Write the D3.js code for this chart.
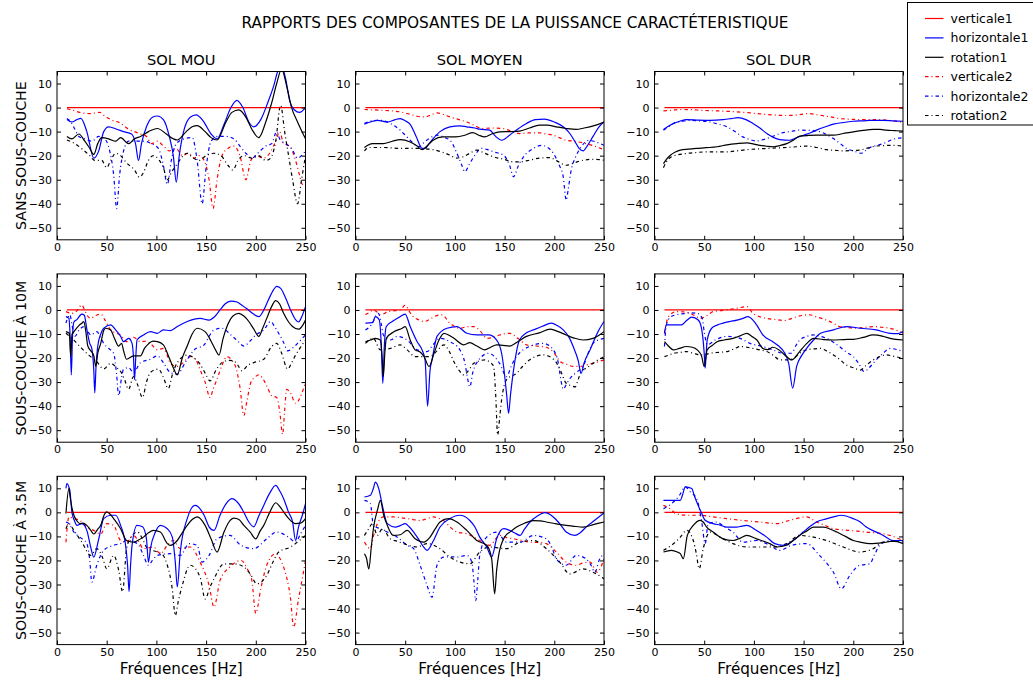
<!DOCTYPE html>
<html><head><meta charset="utf-8">
<script src="https://cdn.jsdelivr.net/npm/d3@7"></script>
<style>
body{margin:0;background:#fff}
svg{display:block}
text{font-family:"DejaVu Sans",sans-serif;fill:#000}
</style>
</head><body>
<svg id="chart" width="1033" height="680"></svg>
<script>
// ---------------- DATA ----------------
const figureTitle = "RAPPORTS DES COMPOSANTES DE LA PUISSANCE CARACTÉTERISTIQUE";
const columnTitles = ["SOL MOU", "SOL MOYEN", "SOL DUR"];
const rowTitles = ["SANS SOUS-COUCHE", "SOUS-COUCHE À 10M", "SOUS-COUCHE À 3.5M"];
const xLabel = "Fréquences [Hz]";
const seriesNames = ["verticale1", "horizontale1", "rotation1", "verticale2", "horizontale2", "rotation2"];
const xTicks = [0, 50, 100, 150, 200, 250];
const yTicks = [-50, -40, -30, -20, -10, 0, 10];

// verticale1 is the reference (0 dB) in every panel
const verticale1 = [[10,0],[250,0]];

// Row A : sans sous-couche
const mouA_h1 = [[10,-5],[15,-6],[20,-5],[24,-4.5],[30,-10],[37,-21],[42,-18],[47,-10],[52,-8],[60,-9],[67,-10],[75,-11],[79,-15],[82,-22],[85,-15],[90,-8],[96,-4],[101,-3.5],[107,-5],[113,-12],[117,-20],[120,-31],[123,-20],[128,-9],[134,-4],[140,-3],[147,-5.5],[155,-11],[161,-13],[168,-7],[175,0],[181,3],[187,0],[193,-6],[198,-8],[205,-5],[212,2],[218,9],[222,15],[226,17],[230,12],[234,3],[239,-1],[244,-2],[250,0]];
const mouA_r1 = [[10,-12],[15,-13],[22,-11],[28,-14],[33,-17],[37,-19.5],[41,-15],[45,-12.5],[52,-13],[59,-14],[64,-12.5],[72,-15],[78,-13],[84,-12],[92,-10],[101,-8.7],[110,-11],[117,-13],[121,-13.5],[130,-10],[136,-8],[141,-7.5],[149,-10],[155,-12.5],[161,-13.5],[170,-6],[176,-2],[183,-1],[190,-4],[196,-9],[203,-12.5],[210,-6],[216,2],[221,10],[226,16],[231,9],[236,0],[242,-6],[250,-13]];
const mouA_v2 = [[10,-0.5],[15,-1],[23,-2],[33,-2.5],[43,-2],[48,-3.5],[54,-5],[64,-6.5],[72,-9],[78,-10],[84,-11],[90,-12],[95,-15],[101,-14],[107,-16],[113,-18],[120,-17],[126,-20],[132,-19],[138,-21],[143,-20],[148,-22],[153,-30],[157,-42],[161,-30],[166,-20],[172,-17],[178,-16],[184,-20],[190,-30],[195,-22],[200,-20],[208,-21],[214,-19],[220,-14],[224,-10],[228,-15],[234,-16],[240,-22],[244,-28],[247,-32],[250,-31]];
const mouA_h2 = [[10,-4.5],[14,-6],[18,-9],[22,-12],[28,-13],[35,-14],[42,-12],[48,-13],[53,-18],[57,-28],[60,-42],[63,-28],[67,-18],[72,-14],[80,-14],[88,-14],[95,-15],[102,-17],[107,-24],[111,-32],[115,-22],[120,-15],[128,-13],[136,-12.5],[141,-22],[146,-40],[150,-25],[155,-14],[162,-12],[170,-12],[178,-13],[184,-16],[190,-19],[196,-21],[202,-19],[210,-16],[216,-15],[221,-10],[224,-13],[230,-15],[236,-17],[242,-21],[246,-20],[250,-18]];
const mouA_r2 = [[10,-13.5],[18,-15],[26,-17.5],[33,-20],[38,-22],[45,-22],[50,-25],[54,-22],[59,-19],[64,-20],[70,-23],[78,-26],[83,-29],[87,-27],[92,-22],[97,-20],[103,-22],[107,-25],[111,-30],[115,-27],[120,-24],[125,-21],[131,-19],[137,-21],[143,-22],[150,-20],[158,-19],[165,-20],[172,-24],[177,-26],[182,-22],[188,-20],[196,-21],[203,-20],[210,-22],[215,-21],[220,-14],[225,1],[229,-10],[233,-20],[237,-30],[242,-40],[246,-30],[250,-20]];

const moyA_h1 = [[9,-6.9],[15,-6],[22,-5.3],[32,-6],[40,-5],[45,-4.6],[50,-5.5],[55,-7],[61,-12],[67,-17],[70,-17],[74,-15],[78,-13],[85,-10],[95,-8],[105,-7.6],[112,-8],[120,-8.5],[125,-9],[135,-9.4],[141,-12],[147,-13.6],[155,-11.5],[163,-9],[172,-6.6],[181,-5],[190,-4.8],[200,-6],[209,-8],[216,-11],[221,-14.3],[225,-17],[229,-18],[233,-16],[239,-12],[245,-8],[250,-6]];
const moyA_r1 = [[9,-16.6],[17,-15],[28,-15],[37,-14],[45,-13.3],[55,-14.3],[62,-16],[67,-17.5],[72,-16],[78,-13.6],[88,-12.2],[101,-12.2],[110,-11.5],[118,-10.4],[124,-11.5],[130,-12.2],[137,-11],[145,-10.1],[155,-10],[165,-9.8],[175,-8.5],[185,-7.3],[193,-7.3],[202,-8],[212,-8.7],[222,-9.1],[230,-8.5],[240,-7.5],[250,-6]];
const moyA_v2 = [[9,-0.8],[25,-1.1],[45,-1.8],[55,-2.8],[62,-3.6],[70,-3.9],[76,-3],[82,-2.2],[88,-2.8],[95,-3.9],[104,-5],[112,-6],[120,-7.5],[127,-8.7],[137,-8.5],[148,-8.7],[157,-9.8],[165,-10.8],[175,-10.5],[185,-10.5],[192,-11],[199,-11.5],[205,-12.5],[212,-13.6],[220,-14],[229,-14.7],[240,-16],[250,-17.5]];
const moyA_h2 = [[9,-6.6],[17,-5.5],[25,-5.3],[35,-6.6],[40,-7.8],[45,-9.4],[50,-11.5],[55,-13.6],[60,-15.5],[64,-16.3],[69,-14.5],[74,-12.9],[82,-11.5],[90,-12.5],[96,-14],[102,-19],[107,-24],[110,-26.7],[114,-24],[119,-20.5],[127,-17],[133,-17.5],[139,-18.4],[149,-19.8],[155,-24],[159,-28.8],[164,-24],[169,-20.5],[179,-17],[187,-15.7],[193,-16.5],[199,-19],[205,-24],[209,-28.8],[212,-38.5],[214,-34],[217,-26],[221,-21],[226,-17],[235,-13.6],[243,-14.5],[250,-15.7]];
const moyA_r2 = [[9,-18],[13,-16.6],[28,-16.6],[45,-17],[62,-17],[78,-17.5],[87,-18.5],[95,-19.8],[101,-21],[108,-20.5],[115,-19],[122,-17.7],[130,-19],[139,-20.5],[149,-21.5],[159,-22.6],[167,-22.5],[175,-21.9],[185,-21],[195,-20.8],[204,-22.5],[212,-24],[220,-23],[229,-21.9],[240,-21.5],[250,-21.9]];

const durA_h1 = [[9,-9.1],[14,-7.8],[19,-6.6],[26,-5.6],[32,-5],[44,-5.2],[56,-5.3],[69,-5],[77,-4.6],[84,-4.2],[92,-5],[99,-6.6],[106,-8.5],[113,-10.8],[120,-12.5],[126,-13.3],[136,-13.6],[143,-12.5],[150,-11.5],[157,-10.5],[163,-9.4],[172,-8],[180,-6.9],[190,-6.2],[200,-5.7],[210,-5.5],[217,-5.3],[230,-5.3],[240,-5.5],[250,-5.7]];
const durA_r1 = [[9,-23.3],[12,-21.5],[16,-19.8],[21,-18.5],[26,-17.7],[34,-17.3],[42,-17],[52,-16.7],[63,-16.3],[73,-15.5],[83,-15],[93,-14.7],[100,-15.2],[106,-15.7],[113,-16.1],[119,-16.3],[126,-15.8],[133,-15],[140,-13.5],[146,-11.9],[155,-11.6],[163,-11.5],[172,-11.5],[180,-11.5],[190,-10.8],[200,-10.1],[210,-9.5],[220,-9.1],[227,-9.1],[233,-9.4],[242,-9.6],[250,-9.8]];
const durA_v2 = [[9,-1.4],[20,-1],[29,-0.8],[38,-0.9],[46,-1.1],[56,-1.3],[66,-1.4],[75,-1.6],[83,-1.8],[93,-2.1],[103,-2.5],[113,-2.9],[123,-3.2],[132,-3.3],[140,-3.2],[148,-2.8],[155,-2.5],[164,-3],[173,-3.6],[180,-4.1],[186,-4.6],[196,-4.8],[206,-5],[215,-5],[223,-5],[232,-5.2],[240,-5.5],[250,-6.2]];
const durA_h2 = [[9,-9.4],[14,-8],[19,-6.6],[27,-5.8],[36,-5.3],[46,-5.6],[56,-6],[65,-7],[73,-8],[81,-10],[89,-12.2],[96,-13.3],[103,-13.9],[108,-13.5],[113,-12.9],[120,-11.8],[126,-10.8],[136,-10],[146,-9.4],[155,-9.5],[163,-9.7],[172,-11],[180,-12.9],[187,-15],[193,-17],[200,-18],[208,-19],[212,-18],[217,-16.6],[223,-15.8],[230,-15],[240,-13.2],[250,-12.5]];
const durA_r2 = [[9,-25],[12,-22.5],[17,-20.5],[24,-19.6],[32,-19.1],[42,-18.7],[53,-18.4],[63,-18.4],[73,-18.4],[83,-18],[93,-17.5],[103,-17.2],[113,-17],[123,-16.8],[133,-16.6],[143,-16.3],[153,-16],[163,-16.6],[173,-17.5],[182,-17.8],[190,-18],[198,-17.9],[206,-17.7],[215,-16.8],[223,-16],[232,-15.8],[240,-15.7],[250,-16]];

// Row B : sous-couche à 10 m
const mouB_h1 = [[9,-2.8],[12,-3.5],[13.2,-11],[14.4,-27],[15.6,-11],[17,-5],[20,-4],[25,-1.7],[27.5,-2.2],[30,-8],[33,-14],[35,-16],[37,-25],[38,-34.5],[39.2,-24],[41,-15],[44,-10],[47,-7.6],[54,-6.2],[59,-8.3],[64,-11],[67,-13.2],[72,-11.8],[75.5,-13.9],[77,-20],[78,-29],[79.2,-20],[80.5,-12.5],[87,-10.4],[94,-9],[101,-9.7],[107,-8.3],[114,-8.6],[121,-6.9],[131,-4.8],[144,-3.5],[153,-4.2],[158,-3],[164,0],[169,2.5],[175,3.7],[181,3.3],[186,2],[191,0.5],[197,-1.5],[203,-2.8],[208,0],[213,4.5],[218,8.5],[221,9.8],[225,9],[230,5],[235,0],[240,-4],[243,-5],[246,-3],[250,1.4]];
const mouB_r1 = [[9,-9],[12.4,-9.7],[13.8,-19.4],[15.2,-10],[17,-9],[22,-6.5],[25,-5.5],[27,-4.8],[29,-9],[31,-15],[35,-17.5],[37,-19],[39,-23.5],[41,-18],[44,-13.9],[47,-8.5],[49,-7.6],[54,-8.3],[58,-12],[62,-15],[65,-13.9],[67,-17],[70,-20.5],[77,-19.1],[84,-19.1],[88,-16],[91,-14.5],[97,-13],[101,-13.2],[107,-14.5],[112,-19],[117,-24],[121,-27],[126,-20],[131,-15],[136,-10],[141,-7.6],[149,-9],[155,-13],[160,-17],[163,-18.8],[167,-12],[171,-6.9],[177,-2.5],[183,-1.4],[188,-2.5],[193,-4.8],[198,-8],[203,-11],[207,-7.5],[211,-3.5],[216,1.5],[220,3.9],[224,2.5],[228,-1.4],[233,-5],[237,-6.9],[243,-8],[247,-6.5],[250,-4.2]];
const mouB_v2 = [[9,-0.7],[15,-1.4],[20,-0.3],[25,2.1],[27,0.7],[30,-2],[34,-3.5],[38,-2.5],[44,-1.7],[48,-4],[54,-8.3],[59,-9.5],[64,-10.4],[70,-13.2],[77,-11.4],[84,-13.2],[90,-13],[94,-13.9],[101,-16.6],[107,-16],[111,-19],[114,-22.2],[121,-23.5],[126,-22.2],[134,-19.4],[140,-21],[144,-24.9],[149,-30],[154,-36.4],[157,-33],[161,-28.8],[166,-23],[171,-19.4],[176,-21],[180,-24],[184,-32],[188,-44],[191,-38],[195,-30.2],[199,-28],[203,-27],[207,-28.5],[211,-31.6],[216,-35.7],[221,-36.4],[224,-42],[227,-51.7],[229,-42],[231,-33],[235,-34.6],[240,-38.8],[245,-36],[250,-30]];
const mouB_h2 = [[9,-5.5],[11,-3],[13,-2],[15,-6],[18,-11],[22,-8.5],[27,-6.9],[31,-9],[34,-10.4],[40,-9],[44,-11.5],[47,-13.9],[52,-16],[57,-18],[60,-27],[62,-35.7],[65,-28],[67,-24.6],[72,-24],[77,-26],[84,-21.9],[94,-20.5],[101,-19.1],[107,-21.9],[114,-26],[121,-26.7],[129,-21.9],[138,-16.6],[148,-14.5],[153,-11],[158,-8.3],[166,-7.6],[175,-10.4],[182,-13],[188,-15],[194,-13],[200,-10.4],[208,-8.3],[215,-4.8],[219,-7],[223,-9.7],[228,-13.5],[232,-17],[238,-15.5],[244,-13],[250,-10.4]];
const mouB_r2 = [[9,-9.7],[15,-11.8],[23,-15.2],[32,-18.8],[39,-21],[47,-24.5],[54,-22.2],[60,-24],[64,-25.6],[68,-29],[72,-33],[77,-27.7],[81,-31],[86,-36.4],[90,-30],[94,-26],[102,-24.6],[107,-28],[112,-32.7],[116,-27],[121,-21.9],[131,-18.8],[138,-20],[144,-22.6],[150,-27],[154,-29.5],[160,-25],[166,-21.9],[172,-21],[178,-21.2],[182,-23],[186,-25.3],[192,-23],[198,-21.9],[208,-20.5],[216,-15.2],[221,-13.9],[226,-18],[232,-24.6],[236,-22],[240,-18.8],[245,-15.5],[250,-12.5]];

const moyB_h1 = [[10,-5.5],[17,-5.3],[20,-2.8],[24,-4.2],[26,-15],[27.5,-30.5],[29,-15],[31,-6.9],[37,-4.8],[44,-3],[50,-1.7],[55,-6.9],[62,-13.2],[67,-16.6],[70,-20.8],[72.5,-40],[75,-25],[77,-20.8],[82,-11],[92,-7.6],[102,-6.9],[112,-9.7],[122,-10.4],[134,-10.4],[142,-12.5],[147,-18],[149,-23.5],[152,-35],[154,-43],[156,-35],[159,-25],[165,-12.5],[172,-9.5],[179,-8.3],[188,-6.8],[197,-5.5],[203,-6.5],[209,-8.3],[215,-11.5],[219,-15.2],[224,-21],[227,-26.3],[230,-22],[236,-16.6],[244,-9],[250,-4.8]];
const moyB_r1 = [[10,-13.2],[15,-12.5],[20,-11.8],[25,-12.5],[26.5,-18],[28,-27.7],[29.5,-18],[31,-11.8],[39,-9],[47,-7.6],[50,-6.9],[55,-12.5],[60,-16.6],[65,-17.5],[69,-19.4],[74,-23.5],[79,-18],[84,-12.5],[89,-9.7],[94,-10.5],[99,-11.8],[109,-14.5],[115,-13.6],[122,-15],[130,-16.6],[136,-15.5],[142,-14.5],[148,-14.7],[155,-15],[164,-13],[172,-11],[185,-9.5],[196,-8],[204,-9],[212,-10.4],[220,-11.7],[229,-12.5],[239,-11.8],[245,-10.5],[250,-9]];
const moyB_v2 = [[10,-2],[14,-1],[18,0],[22,-1],[25,-2],[29,-1.5],[32,-0.7],[40,-0.3],[45,0],[50,2],[54,-0.5],[58,-2.8],[63,-4],[69,-4.8],[75,-3.8],[79,-2.8],[87,-2],[95,-5.5],[105,-7.6],[112,-7],[119,-6.9],[126,-9],[132,-11.8],[138,-11.5],[145,-10.4],[155,-9.7],[164,-12],[172,-14.5],[182,-15],[192,-15.5],[200,-18],[206,-21.5],[212,-22.5],[219,-23.5],[226,-23.5],[232,-22.9],[240,-22],[250,-20.8]];
const moyB_h2 = [[10,-8.3],[17,-5.5],[21,-2],[23,-1.4],[26,-6],[28,-10.4],[35,-12.5],[42,-11],[52,-12.5],[62,-16.6],[72,-17.3],[78,-14.5],[85,-11.8],[95,-13.2],[105,-16.6],[110,-22],[113,-29],[115,-32],[118,-26],[124,-20.8],[134,-18],[145,-22.2],[152,-27.7],[157,-23],[162,-19.4],[175,-15.2],[189,-13.9],[199,-16.6],[204,-22],[207,-30],[209,-33],[212,-31],[216,-28.4],[222,-26],[229,-23.5],[234,-18],[239,-13.9],[250,-11.8]];
const moyB_r2 = [[10,-13.9],[18,-11.8],[25,-16.6],[35,-16],[45,-14.5],[52,-16.6],[60,-19.4],[75,-19.4],[82,-17],[89,-14.5],[94,-17],[99,-21.5],[104,-25],[109,-27],[114,-25],[119,-22.2],[130,-20.8],[136,-22],[139,-23.5],[141,-35],[143,-52],[145,-45],[147,-37.4],[152,-29],[162,-26.3],[168,-23.5],[175,-20.8],[189,-18.7],[200,-20.8],[206,-25],[212,-30.5],[217,-31.5],[221,-32],[224,-29],[227,-25.6],[233,-24],[239,-22.2],[245,-20.5],[250,-19.4]];

const durB_h1 = [[10,-9.7],[12,-6.2],[19,-6.2],[27,-6.2],[32,-4.5],[37.5,-3],[44,-4.2],[47,-7],[48.5,-11],[50,-18],[51,-24.2],[52,-18],[53,-12.5],[57.5,-7.6],[63,-6.3],[69,-5.5],[76,-4.8],[83,-4.2],[89,-3.5],[94,-2.8],[99,-4.2],[104,-7],[109,-10.4],[119,-13.2],[125,-15],[130,-17.3],[135,-22.2],[139,-32.5],[143,-23.5],[148,-19],[153,-16],[160,-12.5],[167,-9.7],[180,-8.3],[193,-6.9],[207,-7.6],[223,-8.3],[237,-9.7],[245,-9.8],[250,-9]];
const durB_r1 = [[10,-13.2],[14,-15],[19,-16.6],[25,-16],[32,-15.2],[38,-15.5],[43,-16.6],[47.5,-19.4],[50,-23.5],[53,-16.6],[58,-14.8],[63,-13.2],[70,-12.5],[79,-11.8],[86,-10.8],[93,-9.7],[98,-11],[103,-12.5],[109,-16],[114,-16.5],[119,-15.5],[125,-16.5],[131,-18.7],[138,-20.8],[146,-17.3],[153,-14],[160,-11.8],[170,-12.3],[180,-12.5],[190,-12.3],[200,-12.2],[210,-11.4],[220,-10.4],[230,-11],[237,-11.8],[250,-12.5]];
const durB_v2 = [[10,-9.7],[14,-2.8],[22,-0.7],[29,-0.8],[36,-1.4],[41,-2.5],[46,-3.5],[52,-2.5],[59,-0.7],[73,0],[83,0.7],[93,1.4],[99,-1.4],[106,-2.8],[113,-3.5],[122,-4],[130,-4.4],[136,-3.8],[143,-2.8],[150,-2.2],[156,-2],[164,-3],[173,-4.2],[180,-5.5],[186,-6.9],[195,-7.3],[203,-7.6],[212,-7.2],[220,-6.9],[228,-7.2],[237,-7.6],[244,-8.5],[250,-9.7]];
const durB_h2 = [[10,-15.2],[12,-6.2],[16,-3],[22,-2],[30,-1.5],[36,-1.2],[43,-1.4],[48,-3.5],[50,-9],[53,-14.5],[61,-12.5],[73,-11],[79,-11.2],[86,-11.8],[96,-13.9],[109,-15.2],[119,-16.6],[130,-18],[138,-18],[142,-15],[146,-12.5],[153,-11],[160,-10.4],[167,-11],[173,-11.8],[180,-13.4],[186,-15.2],[193,-17.5],[200,-19.4],[205,-22],[211,-25.6],[216,-24],[223,-20.8],[230,-18],[237,-16],[244,-16.5],[250,-17.3]];
const durB_r2 = [[10,-19.4],[15,-18.7],[19,-18],[25,-17.7],[32,-17.3],[39,-18],[46,-18.7],[51,-18.5],[56,-18],[65,-17.6],[73,-17.3],[80,-16.2],[86,-15.2],[93,-15.5],[99,-16],[106,-16.6],[113,-17.3],[120,-19],[126,-20.8],[133,-20.8],[140,-20.1],[146,-18],[153,-16.6],[160,-16.2],[167,-16],[173,-17],[180,-18.7],[187,-20.8],[193,-22.9],[200,-24],[207,-25],[213,-23],[220,-20.8],[226,-19.5],[233,-18.7],[241,-19.3],[250,-20.1]];

// Row C : sous-couche à 3.5 m
const mouC_h1 = [[9,10],[10,12],[12,10.5],[13,9],[15,0],[17.5,-3.4],[20,-5.4],[25,-4.7],[30,-7.5],[33.5,-13.7],[37,-18.6],[42,-11],[47,-2.6],[54,-1.2],[59,-1.2],[64,-5.4],[69,-13.7],[71,-22],[72.5,-33],[74,-22],[75.5,-13.7],[80.5,-5.4],[86,-6],[90,-11],[92,-20.7],[94,-15],[99,-8.2],[104,-5.4],[111,-6.8],[116,-10.3],[119,-20.7],[121,-31],[124,-16.5],[131,-2.6],[139,2.9],[148,-1.2],[153,-6],[158,-7.5],[164,-1.2],[170,3.5],[176,5.7],[182,4],[188,0],[193,-4],[198,-6],[203,-1.5],[208,2.9],[214,8],[220,11.2],[224,9],[228,5.7],[233,0],[237,-4],[240,-11.7],[243,-6],[247,-1],[250,3.6]];
const mouC_r1 = [[9,-0.5],[12,10],[13,7],[15,2],[17,-1.2],[20,-3.5],[23,-4.7],[26,-4.5],[30,-5.4],[34,-7.5],[37,-9],[41,-7],[44,-5.4],[47,-1.5],[50,0.2],[54,-1],[57,-2.6],[64,-6.8],[70,-11.7],[77,-12.4],[82,-11.5],[87,-10.3],[92,-8.5],[97,-7.5],[104,-8.2],[111,-13],[114,-13.7],[121,-11.7],[126,-8.5],[131,-5.4],[136,-3],[141,-1.9],[149,-5.4],[155,-11],[161,-16.5],[168,-8.2],[173,-4],[178,-2.4],[183,-3],[188,-5.4],[194,-8],[200,-11],[204,-8],[208,-5.4],[214,0],[220,4],[224,2.5],[228,0.2],[233,-2.5],[240,-4.7],[245,-4.5],[250,-2.6]];
const mouC_v2 = [[9,-12.4],[12,-1.9],[17,-2.6],[23,-3.4],[30,-6.1],[37,-7.5],[44,-9],[50,-4.7],[57,-5.4],[64,-11.7],[70,-12.4],[77,-9.6],[82,-12],[87,-15.1],[97,-14.4],[104,-17.2],[111,-13.7],[117,-11.7],[124,-15.1],[134,-14.4],[144,-20.7],[153,-30.4],[158,-39.4],[164,-28.3],[174,-22.7],[185,-20],[192,-24],[196,-28.3],[200,-42],[205,-31.8],[211,-22],[220,-17.2],[226,-20.7],[231,-27],[235,-36],[238,-47.8],[243,-36],[247,-27],[250,-20]];
const mouC_h2 = [[9,-4],[12,-4.7],[17,-8.2],[23,-10.3],[30,-13],[33,-20],[35,-29],[40,-22],[47,-15.8],[57,-13.7],[64,-13],[70,-11.7],[81,-13],[87,-17.9],[92,-22],[96,-20],[101,-17.9],[114,-17.2],[124,-17.9],[133,-13],[141,-13.7],[146,-20.7],[153,-17.9],[161,-11],[174,-9.6],[185,-13.7],[198,-15.1],[211,-11],[221,-8.2],[233,-10.3],[240,-12.4],[245,-9],[250,-5.4]];
const mouC_r2 = [[9,-6.8],[12,-4.7],[17,-7.5],[25,-12.4],[34,-17.9],[40,-15.1],[46,-19],[50,-23.5],[57,-17.9],[62,-24],[66,-33],[70,-15.1],[75,-10],[81,-8.2],[86,-11],[91,-15.1],[101,-16.5],[107,-18],[111,-22],[116,-32],[119,-42.9],[122,-37],[126,-30.4],[134,-22],[144,-27],[149,-36],[154,-31],[158,-27.6],[168,-21.4],[178,-21.4],[188,-22.7],[195,-26],[201,-29.7],[211,-26.2],[218,-20],[223,-16.5],[235,-14.4],[243,-12],[250,-9.6]];

const moyC_h1 = [[9,6.4],[15,7.1],[18,10],[20,12.6],[23.4,9.9],[27,2.9],[32,-4.7],[40,-6.1],[45,-5.5],[50,-4.7],[54,-6],[58.5,-8.2],[64,-11.5],[68.5,-14.4],[72,-15.8],[78.5,-11.7],[85,-6.1],[95,-2.6],[105,-1.2],[115,-3.4],[120,-6],[125,-10.3],[132,-14.4],[137,-18.6],[142,-11],[149,-6.8],[155,-7.5],[160,-8.5],[165.5,-9.6],[170,-7],[175.5,-4],[183,-1.5],[190.5,-0.1],[199,-1.9],[205,-4.5],[212,-8.2],[220.5,-9.6],[226,-8.5],[232,-6.1],[240,-3.5],[250,-0.3]];
const moyC_r1 = [[9,-17.2],[11,-19],[13.4,-23.5],[16,-14],[18,-6.8],[22.4,1.5],[25,5],[28.4,-1.2],[32,-5.4],[38,-9.6],[45,-9.3],[52,-7.5],[60,-11],[68.5,-12.4],[75,-10.3],[80,-7],[85,-4],[93.6,-2.6],[102,-4],[112,-7.5],[122,-11.7],[132,-13.7],[137,-19.3],[140,-33.9],[142,-24],[144,-17.9],[150,-10.3],[156,-8],[162,-6.1],[170,-4.5],[179,-3.4],[186,-3.5],[192,-4],[202,-4.8],[212,-5.4],[220,-5.8],[229,-6.1],[240,-5],[250,-4]];
const moyC_v2 = [[9,-12.4],[15,-15.1],[18,-10],[22,-4.7],[28,-1.9],[38,-1.9],[45,-2.2],[52,-2.6],[58,-3],[65,-3.4],[72,-2.6],[78.5,-1.9],[84,-2.5],[88.6,-3.4],[95,-6],[102,-8.2],[112,-8.9],[118,-10],[125,-11.7],[135,-13.7],[145,-9.6],[152,-10.5],[159,-11],[168,-11.7],[175.5,-12.4],[185,-12.5],[192,-13],[202,-16.5],[212,-20.7],[222,-22],[229,-21],[236,-20.7],[243,-24.9],[250,-19.3]];
const moyC_h2 = [[9,5],[15,3.6],[18,-5.4],[25,-6.8],[32,-8.2],[42,-10.3],[52,-13.7],[58.5,-15.1],[65,-22],[72,-30.4],[77,-35.3],[82,-22],[88.6,-18.6],[95,-18.5],[102,-18.6],[112,-17.9],[117,-20.7],[119,-28],[121,-36.7],[123,-28],[125,-17.9],[132,-10.3],[142,-8.2],[152,-12.4],[165.5,-12.4],[179,-9.6],[192,-11],[197,-14],[202,-19.3],[212,-22],[222,-17.9],[232,-19.3],[237,-22],[241,-24.9],[245,-20],[250,-17.2]];
const moyC_r2 = [[9,-9.6],[13,-7],[17,-4.7],[22,-9.6],[27,-6.8],[35,-11],[42,-12],[48.5,-13],[62,-14.4],[72,-13],[85,-15.1],[95,-18.6],[105,-20.7],[115,-21.4],[125,-16.5],[135,-14.4],[152,-15.1],[165.5,-12.4],[179,-11.7],[192,-15.1],[205.5,-20.7],[215.6,-25.6],[229,-23.5],[239,-24.9],[250,-27.6]];

const durC_h1 = [[9,5],[20,5],[26,5],[28,7],[31,10.6],[37.5,9.9],[40,7],[42.5,4.3],[47,0],[51,-3.3],[59,-4.7],[66,-5.3],[72.6,-6.1],[82.6,-6.1],[88,-5.7],[92.7,-5.4],[102.7,-7.5],[112.8,-10.3],[121,-13],[129.5,-13.7],[139.5,-11.7],[149.6,-8.2],[156,-6],[163,-4],[172,-2.8],[180,-1.9],[188,-1.2],[200,-2.6],[207,-4],[213,-6.1],[222,-8],[230,-9.6],[240,-11.7],[250,-11.7]];
const durC_r1 = [[9,-16.5],[17,-15.8],[23,-16.5],[26,-17.2],[29,-19.3],[33,-9.6],[39,-5.4],[46,-3.3],[49,-4],[52.5,-6.1],[59,-8.2],[69,-11],[79,-11.7],[86,-10.8],[92.7,-9.6],[102.7,-11],[116,-13],[123,-14.4],[133,-13.7],[140,-11.5],[146,-9.6],[153,-7.8],[160,-6.1],[170,-6.1],[177,-7],[183.5,-8.2],[192,-10],[200,-11.7],[208,-12.5],[216.5,-13],[230,-12.6],[240,-12],[250,-13]];
const durC_v2 = [[9,2.9],[15.7,1.5],[22,-0.6],[32.5,-1.2],[46,-1.2],[59,-1.9],[72.6,-2.6],[89,-3.4],[106,-4],[123,-4.7],[132,-3.8],[139.5,-2.9],[153,-1.9],[163,-4],[172,-5.5],[180,-6.8],[196.5,-7.5],[213,-8.2],[230,-8.9],[240,-10],[250,-11.7]];
const durC_h2 = [[9,1.5],[19,4.3],[25,7],[31,10.6],[36,8.5],[42.5,5.7],[47.5,-4],[51,-13],[54,-4.7],[62.6,-4],[70,-6],[79,-8.2],[89,-12.4],[102.7,-11.7],[116,-13.7],[126,-15.8],[138,-13.7],[153,-13],[166,-17.9],[173,-21],[180,-24.9],[188,-31.8],[196.5,-26.2],[206.5,-22],[216.5,-21.4],[222,-17],[226.6,-13.7],[236.6,-11.7],[250,-12.4]];
const durC_r2 = [[9,-15.8],[17,-13.7],[22,-12],[26,-10.3],[32.5,-7.5],[39,-11.7],[42,-17],[45,-23.5],[49,-15.1],[56,-8.2],[66,-10.3],[79,-13],[92.7,-14.4],[106,-14.4],[119.5,-14.4],[133,-13],[146,-9.6],[160,-10.3],[173,-11.7],[190,-14.4],[206.5,-16.5],[220,-15.1],[230,-12.4],[250,-11.7]];

// panel grid [row][col] -> series in seriesNames order
const panels = [
  [[verticale1,mouA_h1,mouA_r1,mouA_v2,mouA_h2,mouA_r2],
   [verticale1,moyA_h1,moyA_r1,moyA_v2,moyA_h2,moyA_r2],
   [verticale1,durA_h1,durA_r1,durA_v2,durA_h2,durA_r2]],
  [[verticale1,mouB_h1,mouB_r1,mouB_v2,mouB_h2,mouB_r2],
   [verticale1,moyB_h1,moyB_r1,moyB_v2,moyB_h2,moyB_r2],
   [verticale1,durB_h1,durB_r1,durB_v2,durB_h2,durB_r2]],
  [[verticale1,mouC_h1,mouC_r1,mouC_v2,mouC_h2,mouC_r2],
   [verticale1,moyC_h1,moyC_r1,moyC_v2,moyC_h2,moyC_r2],
   [verticale1,durC_h1,durC_r1,durC_v2,durC_h2,durC_r2]]
];

// ---------------- STYLE / LAYOUT ----------------
const seriesColors = ["#ff0000", "#0000ff", "#000000", "#ff0000", "#0000ff", "#000000"];
const DASHDOT = "3.5,3,1,3";
const seriesDash = [null, null, null, DASHDOT, DASHDOT, DASHDOT];

const colX = [57, 355.5, 654.5];
const rowY = [71.5, 273.9, 476.3];
const panelW = 248.5, panelH = 168.3;

const svg = d3.select("#chart");
svg.append("rect").attr("width", 1033).attr("height", 680).attr("fill", "#fff");

const x = d3.scaleLinear().domain([0, 250]).range([0, panelW]);
const y = d3.scaleLinear().domain([-55, 15]).range([panelH, 0]);
const line = d3.line().x(d => x(d[0])).y(d => y(d[1])).curve(d3.curveMonotoneX);

svg.append("text").attr("x", 515).attr("y", 28).attr("text-anchor", "middle")
  .attr("font-size", "15.3px").text(figureTitle);

panels.forEach((row, ri) => {
  row.forEach((series, ci) => {
    const g = svg.append("g").attr("transform", `translate(${colX[ci]},${rowY[ri]})`);
    const cid = `clip-${ri}-${ci}`;
    g.append("clipPath").attr("id", cid).append("rect")
      .attr("width", panelW).attr("height", panelH);
    const lines = g.append("g").attr("clip-path", `url(#${cid})`);
    // draw dash-dot first, solid on top
    [3, 4, 5, 0, 1, 2].forEach(si => {
      lines.append("path").datum(series[si])
        .attr("d", line)
        .attr("fill", "none")
        .attr("stroke", seriesColors[si])
        .attr("stroke-width", 1.2)
        .attr("stroke-dasharray", seriesDash[si])
        .attr("stroke-linejoin", "round");
    });

    const axL = g.append("g").call(d3.axisLeft(y).tickValues(yTicks).tickSize(-4).tickPadding(5).tickFormat(d3.format("d")));
    const axR = g.append("g").attr("transform", `translate(${panelW},0)`).call(d3.axisRight(y).tickValues(yTicks).tickSize(-4).tickFormat(""));
    const axB = g.append("g").attr("transform", `translate(0,${panelH})`).call(d3.axisBottom(x).tickValues(xTicks).tickSize(-4).tickPadding(3.5));
    const axT = g.append("g").call(d3.axisTop(x).tickValues(xTicks).tickSize(-4).tickFormat(""));
    [axL, axR, axB, axT].forEach(a => {
      a.select(".domain").remove();
      a.selectAll("line").attr("stroke", "#000");
      a.selectAll("text").attr("font-size", "11px").attr("font-family", "DejaVu Sans").attr("fill", "#000");
    });
    g.append("rect").attr("width", panelW).attr("height", panelH)
      .attr("fill", "none").attr("stroke", "#000").attr("stroke-width", 1);

    if (ri === 0) {
      g.append("text").attr("x", panelW / 2).attr("y", -6.3).attr("text-anchor", "middle")
        .attr("font-size", "14.6px").text(columnTitles[ci]);
    }
    if (ci === 0) {
      g.append("text").attr("transform", `translate(-31,${panelH / 2}) rotate(-90)`)
        .attr("text-anchor", "middle").attr("font-size", "14.2px").text(rowTitles[ri]);
    }
    if (ri === 2) {
      g.append("text").attr("x", panelW / 2).attr("y", panelH + 29).attr("text-anchor", "middle")
        .attr("font-size", "15.2px").text(xLabel);
    }
  });
});

// legend
const lg = svg.append("g").attr("transform", "translate(907.5,2.5)");
lg.append("rect").attr("width", 140).attr("height", 122.5)
  .attr("fill", "#fff").attr("stroke", "#000").attr("stroke-width", 1);
seriesNames.forEach((name, i) => {
  const yy = 16 + i * 19.4;
  lg.append("line").attr("x1", 17.5).attr("x2", 36).attr("y1", yy).attr("y2", yy)
    .attr("stroke", seriesColors[i]).attr("stroke-width", 1.2)
    .attr("stroke-dasharray", seriesDash[i]);
  lg.append("text").attr("x", 43).attr("y", yy + 4.5).attr("font-size", "12.5px").text(name);
});
</script>
</body></html>
